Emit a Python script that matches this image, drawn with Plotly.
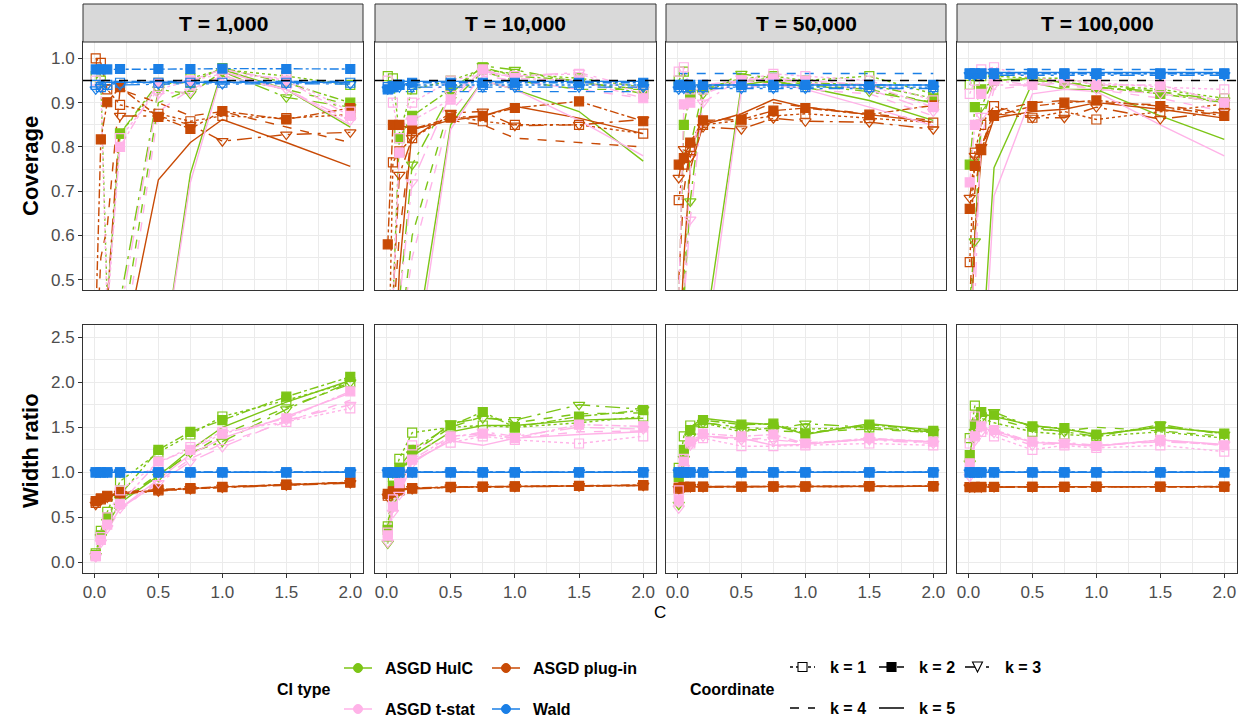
import plotly.graph_objects as go

# tuning constant C on the x axis
C_VALUES = [0.01, 0.05, 0.1, 0.2, 0.5, 0.75, 1.0, 1.5, 2.0]
T_LABELS = ["T = 1,000", "T = 10,000", "T = 50,000", "T = 100,000"]
CI_TYPES = ["ASGD HulC", "ASGD plug-in", "ASGD t-stat", "Wald"]
COORDS = ["k = 1", "k = 2", "k = 3", "k = 4", "k = 5"]
TARGET = 0.95

# ---- coverage, one list per coordinate k = 1..5 ----
cov_1000_hulc = [
    [0.96, 0.95, 0.45, 0.83, 0.937, 0.955, 0.975, 0.96, 0.94],
    [0.20, 0.30, 0.45, 0.83, 0.945, 0.945, 0.978, 0.945, 0.90],
    [0.10, 0.20, 0.35, 0.45, 0.93, 0.92, 0.97, 0.912, 0.89],
    [0.05, 0.10, 0.20, 0.35, 0.90, 0.93, 0.96, 0.93, 0.895],
    [0.02, 0.05, 0.08, 0.12, 0.25, 0.74, 0.975, 0.93, 0.845],
]
cov_1000_plugin = [
    [1.00, 0.99, 0.93, 0.895, 0.875, 0.858, 0.87, 0.865, 0.873],
    [0.40, 0.817, 0.901, 0.935, 0.868, 0.841, 0.881, 0.862, 0.888],
    [0.20, 0.35, 0.45, 0.87, 0.87, 0.85, 0.813, 0.828, 0.833],
    [0.30, 0.55, 0.62, 0.93, 0.90, 0.87, 0.88, 0.845, 0.81],
    [0.02, 0.05, 0.10, 0.30, 0.726, 0.81, 0.862, 0.81, 0.756],
]
cov_1000_tstat = [
    [0.95, 0.94, 0.42, 0.82, 0.93, 0.95, 0.965, 0.955, 0.88],
    [0.20, 0.35, 0.45, 0.80, 0.945, 0.95, 0.975, 0.95, 0.87],
    [0.10, 0.20, 0.30, 0.42, 0.92, 0.925, 0.96, 0.93, 0.86],
    [0.05, 0.10, 0.15, 0.30, 0.88, 0.93, 0.96, 0.93, 0.86],
    [0.02, 0.05, 0.08, 0.12, 0.25, 0.72, 0.97, 0.93, 0.85],
]
cov_1000_wald = [
    [0.94, 0.935, 0.94, 0.945, 0.945, 0.945, 0.945, 0.945, 0.945],
    [0.975, 0.975, 0.975, 0.976, 0.976, 0.976, 0.977, 0.976, 0.976],
    [0.93, 0.935, 0.94, 0.94, 0.942, 0.943, 0.942, 0.943, 0.942],
    [0.945, 0.948, 0.948, 0.948, 0.948, 0.948, 0.948, 0.948, 0.948],
    [0.94, 0.944, 0.946, 0.946, 0.946, 0.946, 0.946, 0.946, 0.946],
]

cov_10000_hulc = [
    [0.96, 0.955, 0.83, 0.93, 0.95, 0.975, 0.965, 0.955, 0.935],
    [0.40, 0.45, 0.82, 0.87, 0.93, 0.98, 0.96, 0.95, 0.92],
    [0.20, 0.40, 0.45, 0.76, 0.92, 0.983, 0.974, 0.945, 0.93],
    [0.10, 0.20, 0.35, 0.60, 0.90, 0.97, 0.95, 0.93, 0.93],
    [0.00, 0.05, 0.10, 0.30, 0.85, 0.95, 0.93, 0.88, 0.768],
]
cov_10000_plugin = [
    [0.20, 0.765, 0.79, 0.82, 0.87, 0.858, 0.85, 0.85, 0.83],
    [0.58, 0.85, 0.85, 0.84, 0.866, 0.87, 0.888, 0.903, 0.858],
    [0.30, 0.45, 0.737, 0.82, 0.877, 0.88, 0.848, 0.85, 0.862],
    [0.20, 0.40, 0.60, 0.84, 0.86, 0.85, 0.82, 0.81, 0.80],
    [0.05, 0.20, 0.52, 0.84, 0.86, 0.87, 0.892, 0.865, 0.83],
]
cov_10000_tstat = [
    [0.95, 0.90, 0.82, 0.90, 0.95, 0.965, 0.96, 0.965, 0.92],
    [0.30, 0.45, 0.787, 0.86, 0.907, 0.975, 0.955, 0.95, 0.91],
    [0.15, 0.35, 0.45, 0.72, 0.92, 0.97, 0.96, 0.968, 0.93],
    [0.10, 0.20, 0.35, 0.55, 0.88, 0.96, 0.95, 0.93, 0.91],
    [0.00, 0.05, 0.10, 0.25, 0.84, 0.95, 0.93, 0.86, 0.78],
]
cov_10000_wald = [
    [0.935, 0.938, 0.94, 0.94, 0.94, 0.94, 0.94, 0.94, 0.94],
    [0.93, 0.935, 0.94, 0.945, 0.945, 0.945, 0.945, 0.945, 0.945],
    [0.93, 0.932, 0.935, 0.935, 0.935, 0.935, 0.935, 0.935, 0.935],
    [0.925, 0.925, 0.925, 0.925, 0.925, 0.925, 0.925, 0.925, 0.925],
    [0.948, 0.948, 0.948, 0.948, 0.948, 0.948, 0.948, 0.948, 0.948],
]

cov_50000_hulc = [
    [0.95, 0.97, 0.92, 0.93, 0.955, 0.96, 0.95, 0.96, 0.92],
    [0.45, 0.85, 0.92, 0.935, 0.95, 0.955, 0.945, 0.94, 0.91],
    [0.40, 0.45, 0.677, 0.92, 0.965, 0.955, 0.94, 0.925, 0.90],
    [0.30, 0.50, 0.80, 0.93, 0.95, 0.945, 0.94, 0.93, 0.90],
    [0.00, 0.10, 0.20, 0.35, 0.94, 0.95, 0.935, 0.905, 0.86],
]
cov_50000_plugin = [
    [0.68, 0.76, 0.80, 0.85, 0.86, 0.87, 0.875, 0.865, 0.855],
    [0.76, 0.775, 0.81, 0.86, 0.862, 0.882, 0.888, 0.873, 0.894],
    [0.73, 0.795, 0.777, 0.845, 0.84, 0.865, 0.858, 0.856, 0.84],
    [0.50, 0.70, 0.80, 0.855, 0.87, 0.90, 0.89, 0.875, 0.86],
    [0.30, 0.55, 0.75, 0.85, 0.875, 0.907, 0.89, 0.873, 0.856],
]
cov_50000_tstat = [
    [0.97, 0.98, 0.93, 0.93, 0.95, 0.965, 0.96, 0.95, 0.905],
    [0.45, 0.896, 0.90, 0.94, 0.95, 0.955, 0.95, 0.94, 0.89],
    [0.35, 0.45, 0.636, 0.90, 0.955, 0.95, 0.945, 0.93, 0.88],
    [0.25, 0.45, 0.75, 0.92, 0.95, 0.94, 0.93, 0.92, 0.87],
    [0.00, 0.08, 0.15, 0.30, 0.93, 0.945, 0.93, 0.89, 0.848],
]
cov_50000_wald = [
    [0.935, 0.935, 0.935, 0.935, 0.935, 0.935, 0.935, 0.935, 0.935],
    [0.94, 0.94, 0.94, 0.94, 0.94, 0.94, 0.94, 0.94, 0.94],
    [0.93, 0.932, 0.932, 0.932, 0.932, 0.932, 0.932, 0.932, 0.932],
    [0.966, 0.966, 0.966, 0.966, 0.966, 0.966, 0.966, 0.966, 0.966],
    [0.94, 0.94, 0.94, 0.94, 0.94, 0.94, 0.94, 0.94, 0.94],
]

cov_100000_hulc = [
    [0.94, 0.96, 0.96, 0.96, 0.955, 0.955, 0.94, 0.93, 0.91],
    [0.76, 0.89, 0.93, 0.95, 0.955, 0.945, 0.935, 0.92, 0.90],
    [0.45, 0.587, 0.89, 0.955, 0.95, 0.945, 0.935, 0.925, 0.905],
    [0.40, 0.60, 0.85, 0.95, 0.955, 0.945, 0.94, 0.925, 0.90],
    [0.00, 0.10, 0.30, 0.753, 0.945, 0.93, 0.93, 0.87, 0.817],
]
cov_100000_plugin = [
    [0.54, 0.787, 0.85, 0.892, 0.866, 0.88, 0.862, 0.88, 0.897],
    [0.66, 0.757, 0.793, 0.87, 0.892, 0.90, 0.905, 0.892, 0.87],
    [0.685, 0.78, 0.80, 0.875, 0.866, 0.866, 0.89, 0.863, 0.88],
    [0.45, 0.70, 0.80, 0.88, 0.90, 0.905, 0.90, 0.895, 0.875],
    [0.30, 0.60, 0.78, 0.865, 0.88, 0.885, 0.90, 0.885, 0.865],
]
cov_100000_tstat = [
    [0.92, 0.95, 0.975, 0.98, 0.955, 0.95, 0.945, 0.935, 0.93],
    [0.72, 0.85, 0.92, 0.95, 0.94, 0.955, 0.94, 0.94, 0.90],
    [0.45, 0.45, 0.87, 0.94, 0.94, 0.945, 0.93, 0.92, 0.90],
    [0.35, 0.55, 0.82, 0.93, 0.94, 0.94, 0.93, 0.91, 0.88],
    [0.00, 0.05, 0.20, 0.69, 0.92, 0.93, 0.925, 0.85, 0.78],
]
cov_100000_wald = [
    [0.965, 0.965, 0.965, 0.965, 0.965, 0.965, 0.965, 0.965, 0.965],
    [0.966, 0.966, 0.966, 0.966, 0.966, 0.966, 0.966, 0.966, 0.966],
    [0.962, 0.962, 0.962, 0.962, 0.962, 0.962, 0.962, 0.962, 0.962],
    [0.975, 0.975, 0.975, 0.975, 0.975, 0.975, 0.975, 0.975, 0.975],
    [0.968, 0.968, 0.968, 0.968, 0.968, 0.968, 0.968, 0.968, 0.968],
]

# ---- width ratio ----
wid_1000_hulc = [
    [0.10, 0.35, 0.56, 0.90, 1.22, 1.42, 1.62, 1.80, 2.00],
    [0.08, 0.30, 0.50, 0.75, 1.25, 1.45, 1.58, 1.84, 2.06],
    [0.07, 0.28, 0.45, 0.70, 0.95, 1.22, 1.34, 1.70, 2.00],
    [0.06, 0.26, 0.44, 0.68, 0.98, 1.20, 1.42, 1.72, 1.98],
    [0.06, 0.25, 0.42, 0.66, 0.96, 1.25, 1.50, 1.78, 2.02],
]
wid_1000_plugin = [
    [0.66, 0.70, 0.73, 0.77, 0.80, 0.82, 0.835, 0.86, 0.885],
    [0.68, 0.71, 0.74, 0.78, 0.81, 0.825, 0.84, 0.865, 0.89],
    [0.64, 0.69, 0.72, 0.76, 0.79, 0.815, 0.83, 0.855, 0.88],
    [0.65, 0.70, 0.725, 0.765, 0.795, 0.82, 0.835, 0.86, 0.885],
    [0.67, 0.705, 0.735, 0.775, 0.80, 0.822, 0.838, 0.862, 0.887],
]
wid_1000_tstat = [
    [0.07, 0.28, 0.50, 0.80, 1.10, 1.28, 1.45, 1.56, 1.71],
    [0.07, 0.25, 0.42, 0.65, 1.12, 1.25, 1.43, 1.60, 1.90],
    [0.06, 0.22, 0.38, 0.60, 0.88, 1.12, 1.28, 1.58, 1.75],
    [0.05, 0.20, 0.36, 0.58, 0.90, 1.15, 1.32, 1.56, 1.80],
    [0.05, 0.20, 0.37, 0.60, 0.92, 1.20, 1.38, 1.62, 1.88],
]
wid_1000_wald = [
    [1.0, 1.0, 1.0, 1.0, 1.0, 1.0, 1.0, 1.0, 1.0],
    [1.0, 1.0, 1.0, 1.0, 1.0, 1.0, 1.0, 1.0, 1.0],
    [1.0, 1.0, 1.0, 1.0, 1.0, 1.0, 1.0, 1.0, 1.0],
    [1.0, 1.0, 1.0, 1.0, 1.0, 1.0, 1.0, 1.0, 1.0],
    [1.0, 1.0, 1.0, 1.0, 1.0, 1.0, 1.0, 1.0, 1.0],
]

wid_10000_hulc = [
    [0.40, 0.95, 1.15, 1.44, 1.50, 1.52, 1.50, 1.55, 1.62],
    [0.36, 0.85, 1.05, 1.25, 1.52, 1.67, 1.50, 1.62, 1.69],
    [0.21, 0.70, 0.95, 1.20, 1.545, 1.60, 1.58, 1.75, 1.70],
    [0.25, 0.75, 1.00, 1.22, 1.50, 1.62, 1.55, 1.65, 1.66],
    [0.28, 0.78, 1.00, 1.18, 1.45, 1.52, 1.52, 1.58, 1.60],
]
wid_10000_plugin = [
    [0.74, 0.78, 0.80, 0.82, 0.835, 0.84, 0.842, 0.848, 0.855],
    [0.76, 0.79, 0.81, 0.825, 0.838, 0.842, 0.845, 0.85, 0.858],
    [0.73, 0.77, 0.795, 0.815, 0.832, 0.838, 0.84, 0.846, 0.852],
    [0.75, 0.78, 0.80, 0.82, 0.835, 0.84, 0.843, 0.848, 0.855],
    [0.75, 0.785, 0.805, 0.822, 0.836, 0.841, 0.844, 0.849, 0.856],
]
wid_10000_tstat = [
    [0.33, 0.70, 0.95, 1.30, 1.33, 1.40, 1.36, 1.32, 1.40],
    [0.30, 0.62, 0.88, 1.14, 1.40, 1.43, 1.38, 1.53, 1.51],
    [0.22, 0.55, 0.75, 1.10, 1.38, 1.45, 1.40, 1.50, 1.48],
    [0.26, 0.58, 0.80, 1.12, 1.36, 1.42, 1.38, 1.45, 1.46],
    [0.28, 0.60, 0.85, 1.12, 1.35, 1.30, 1.38, 1.42, 1.45],
]
wid_10000_wald = [
    [1.0, 1.0, 1.0, 1.0, 1.0, 1.0, 1.0, 1.0, 1.0],
    [1.0, 1.0, 1.0, 1.0, 1.0, 1.0, 1.0, 1.0, 1.0],
    [1.0, 1.0, 1.0, 1.0, 1.0, 1.0, 1.0, 1.0, 1.0],
    [1.0, 1.0, 1.0, 1.0, 1.0, 1.0, 1.0, 1.0, 1.0],
    [1.0, 1.0, 1.0, 1.0, 1.0, 1.0, 1.0, 1.0, 1.0],
]

wid_50000_hulc = [
    [1.05, 1.40, 1.52, 1.55, 1.45, 1.50, 1.48, 1.50, 1.44],
    [0.95, 1.25, 1.47, 1.58, 1.53, 1.54, 1.43, 1.53, 1.46],
    [0.64, 1.15, 1.40, 1.55, 1.50, 1.48, 1.54, 1.50, 1.45],
    [0.75, 1.20, 1.45, 1.56, 1.48, 1.46, 1.45, 1.48, 1.44],
    [0.85, 1.25, 1.50, 1.60, 1.55, 1.53, 1.42, 1.54, 1.47],
]
wid_50000_plugin = [
    [0.82, 0.835, 0.838, 0.84, 0.84, 0.842, 0.842, 0.845, 0.845],
    [0.83, 0.838, 0.84, 0.842, 0.842, 0.844, 0.844, 0.846, 0.847],
    [0.815, 0.832, 0.836, 0.838, 0.84, 0.84, 0.841, 0.843, 0.844],
    [0.82, 0.835, 0.838, 0.84, 0.841, 0.842, 0.842, 0.844, 0.845],
    [0.825, 0.836, 0.839, 0.841, 0.842, 0.843, 0.843, 0.845, 0.846],
]
wid_50000_tstat = [
    [0.80, 1.15, 1.32, 1.38, 1.29, 1.29, 1.30, 1.32, 1.30],
    [0.69, 1.12, 1.34, 1.43, 1.40, 1.42, 1.32, 1.38, 1.34],
    [0.60, 1.05, 1.30, 1.40, 1.36, 1.36, 1.33, 1.36, 1.32],
    [0.65, 1.08, 1.32, 1.41, 1.37, 1.38, 1.32, 1.37, 1.33],
    [0.70, 1.10, 1.33, 1.40, 1.38, 1.30, 1.31, 1.37, 1.34],
]
wid_50000_wald = [
    [1.0, 1.0, 1.0, 1.0, 1.0, 1.0, 1.0, 1.0, 1.0],
    [1.0, 1.0, 1.0, 1.0, 1.0, 1.0, 1.0, 1.0, 1.0],
    [1.0, 1.0, 1.0, 1.0, 1.0, 1.0, 1.0, 1.0, 1.0],
    [1.0, 1.0, 1.0, 1.0, 1.0, 1.0, 1.0, 1.0, 1.0],
    [1.0, 1.0, 1.0, 1.0, 1.0, 1.0, 1.0, 1.0, 1.0],
]

wid_100000_hulc = [
    [1.38, 1.74, 1.60, 1.55, 1.45, 1.42, 1.40, 1.45, 1.38],
    [1.19, 1.53, 1.67, 1.64, 1.51, 1.49, 1.42, 1.51, 1.43],
    [1.10, 1.45, 1.60, 1.67, 1.50, 1.45, 1.40, 1.53, 1.42],
    [1.15, 1.50, 1.62, 1.60, 1.48, 1.46, 1.50, 1.46, 1.40],
    [1.20, 1.50, 1.65, 1.62, 1.52, 1.48, 1.42, 1.50, 1.44],
]
wid_100000_plugin = [
    [0.835, 0.836, 0.836, 0.837, 0.838, 0.838, 0.839, 0.84, 0.84],
    [0.837, 0.838, 0.838, 0.839, 0.84, 0.84, 0.841, 0.842, 0.842],
    [0.833, 0.834, 0.835, 0.836, 0.837, 0.837, 0.838, 0.839, 0.839],
    [0.835, 0.836, 0.837, 0.837, 0.838, 0.839, 0.839, 0.84, 0.841],
    [0.836, 0.837, 0.837, 0.838, 0.839, 0.839, 0.84, 0.841, 0.841],
]
wid_100000_tstat = [
    [1.32, 1.62, 1.45, 1.40, 1.25, 1.30, 1.27, 1.30, 1.23],
    [1.10, 1.40, 1.51, 1.47, 1.34, 1.32, 1.29, 1.36, 1.30],
    [0.95, 1.35, 1.45, 1.44, 1.30, 1.33, 1.30, 1.34, 1.31],
    [0.84, 1.35, 1.48, 1.45, 1.32, 1.31, 1.30, 1.35, 1.30],
    [1.00, 1.38, 1.50, 1.46, 1.33, 1.32, 1.29, 1.36, 1.31],
]
wid_100000_wald = [
    [1.0, 1.0, 1.0, 1.0, 1.0, 1.0, 1.0, 1.0, 1.0],
    [1.0, 1.0, 1.0, 1.0, 1.0, 1.0, 1.0, 1.0, 1.0],
    [1.0, 1.0, 1.0, 1.0, 1.0, 1.0, 1.0, 1.0, 1.0],
    [1.0, 1.0, 1.0, 1.0, 1.0, 1.0, 1.0, 1.0, 1.0],
    [1.0, 1.0, 1.0, 1.0, 1.0, 1.0, 1.0, 1.0, 1.0],
]

PANELS = [
    [
        [cov_1000_hulc, cov_1000_plugin, cov_1000_tstat, cov_1000_wald],
        [cov_10000_hulc, cov_10000_plugin, cov_10000_tstat, cov_10000_wald],
        [cov_50000_hulc, cov_50000_plugin, cov_50000_tstat, cov_50000_wald],
        [cov_100000_hulc, cov_100000_plugin, cov_100000_tstat, cov_100000_wald],
    ],
    [
        [wid_1000_hulc, wid_1000_plugin, wid_1000_tstat, wid_1000_wald],
        [wid_10000_hulc, wid_10000_plugin, wid_10000_tstat, wid_10000_wald],
        [wid_50000_hulc, wid_50000_plugin, wid_50000_tstat, wid_50000_wald],
        [wid_100000_hulc, wid_100000_plugin, wid_100000_tstat, wid_100000_wald],
    ],
]

COLORS = ["#7CC516", "#C84A05", "#FFB3E8", "#1A7FE6"]
DASHES = ["dot", "dashdot", "longdashdot", "dash", "solid"]
SYMBOLS = ["square-open", "square", "triangle-down-open"]

# ---- page geometry (pixels) ----
W, H = 1240, 717
ML, MR, MT, MB = 83, 3, 4, 144
PW, PH = W - ML - MR, H - MT - MB
COL_PX = [(83, 363), (375, 656), (666, 946), (957, 1237)]
ROW_PX = [(42, 290), (325, 573)]
STRIP_TOP = 4


def fx(px):
    return (px - ML) / PW


def fy(py):
    return (H - MB - py) / PH


FONT = "Arial, Liberation Sans, sans-serif"
GRID = "#EBEBEB"
FRAME = "#333333"

fig = go.Figure()

for r in range(2):
    for c in range(4):
        n = r * 4 + c + 1
        xa = "x" if n == 1 else f"x{n}"
        ya = "y" if n == 1 else f"y{n}"
        groups = PANELS[r][c]
        for i, series in enumerate(groups):
            for k in range(5):
                fig.add_trace(go.Scatter(
                    x=C_VALUES, y=series[k], mode="lines",
                    line=dict(color=COLORS[i], width=1.4, dash=DASHES[k]),
                    xaxis=xa, yaxis=ya, showlegend=False, hoverinfo="skip"))
        for i, series in enumerate(groups):
            for k in range(3):
                fig.add_trace(go.Scatter(
                    x=C_VALUES, y=series[k], mode="markers",
                    marker=dict(color=COLORS[i], symbol=SYMBOLS[k],
                                size=10 if k == 2 else 9,
                                line=dict(color=COLORS[i], width=1.2)),
                    xaxis=xa, yaxis=ya, showlegend=False, hoverinfo="skip"))

layout = dict(
    width=W, height=H,
    margin=dict(l=ML, r=MR, t=MT, b=MB),
    paper_bgcolor="white", plot_bgcolor="white",
    font=dict(family=FONT, color="#1A1A1A"),
    showlegend=False,
)

x_ticks = [0, 0.5, 1.0, 1.5, 2.0]
for r in range(2):
    y0, y1 = ROW_PX[r]
    if r == 0:
        yrange, yt, ym = [0.477, 1.037], [0.5, 0.6, 0.7, 0.8, 0.9, 1.0], [0.55, 0.65, 0.75, 0.85, 0.95]
    else:
        yrange, yt, ym = [-0.118, 2.636], [0, 0.5, 1.0, 1.5, 2.0, 2.5], [0.25, 0.75, 1.25, 1.75, 2.25]
    for c in range(4):
        n = r * 4 + c + 1
        key = "" if n == 1 else str(n)
        a, b = COL_PX[c]
        layout["xaxis" + key] = dict(
            domain=[fx(a), fx(b)], anchor="y" + key, range=[-0.0895, 2.0995],
            showline=True, mirror=True, linecolor=FRAME, linewidth=1,
            showgrid=True, gridcolor=GRID, gridwidth=1.1, zeroline=False,
            tickvals=x_ticks, ticktext=[f"{v:.1f}" for v in x_ticks],
            showticklabels=(r == 1), ticks="outside" if r == 1 else "",
            ticklen=4, tickcolor=FRAME,
            tickfont=dict(size=17, color="#4D4D4D", family=FONT),
            minor=dict(tickvals=[0.25, 0.75, 1.25, 1.75], showgrid=True,
                       gridcolor=GRID, gridwidth=0.55, ticks=""),
        )
        layout["yaxis" + key] = dict(
            domain=[fy(y1), fy(y0)], anchor="x" + key, range=yrange,
            showline=True, mirror=True, linecolor=FRAME, linewidth=1,
            showgrid=True, gridcolor=GRID, gridwidth=1.1, zeroline=False,
            tickvals=yt, ticktext=[f"{v:.1f}" for v in yt],
            showticklabels=(c == 0), ticks="outside" if c == 0 else "",
            ticklen=4, tickcolor=FRAME,
            tickfont=dict(size=17, color="#4D4D4D", family=FONT),
            minor=dict(tickvals=ym, showgrid=True, gridcolor=GRID,
                       gridwidth=0.55, ticks=""),
        )

fig.update_layout(**layout)

shapes = []
annotations = []


def text_at(s, px, py, anchor="left", size=16, bold=True, angle=0):
    annotations.append(dict(text=f"<b>{s}</b>" if bold else s, xref="paper", yref="paper",
                            x=fx(px), y=fy(py), xanchor=anchor, yanchor="middle",
                            textangle=angle, showarrow=False,
                            font=dict(size=size, color="black")))


# target coverage line + strips
for c in range(4):
    n = c + 1
    key = "" if n == 1 else str(n)
    shapes.append(dict(type="line", xref=f"x{key} domain", x0=0, x1=1,
                       yref="y" + key, y0=TARGET, y1=TARGET,
                       line=dict(color="black", width=1.5, dash="dash")))
    a, b = COL_PX[c]
    shapes.append(dict(type="rect", xref="paper", yref="paper",
                       x0=fx(a), x1=fx(b), y0=fy(ROW_PX[0][0]), y1=fy(STRIP_TOP),
                       fillcolor="#D9D9D9", line=dict(color=FRAME, width=1)))
    text_at(T_LABELS[c], (a + b) / 2, (ROW_PX[0][0] + STRIP_TOP) / 2 + 1,
            anchor="center", size=21)

# axis titles
text_at("Coverage", 30, 166, anchor="center", size=22, angle=-90)
text_at("Width ratio", 30, 451, anchor="center", size=22, angle=-90)
text_at("C", 660, 612, anchor="center", size=17, bold=False)


# ---- legends ----
def key_line(x0, x1, py, color, dash="solid"):
    shapes.append(dict(type="line", xref="paper", yref="paper",
                       x0=fx(x0), x1=fx(x1), y0=fy(py), y1=fy(py),
                       line=dict(color=color, width=1.5, dash=dash)))


def key_circle(cx, cy, rad, color):
    shapes.append(dict(type="circle", xref="paper", yref="paper",
                       x0=fx(cx - rad), x1=fx(cx + rad), y0=fy(cy + rad), y1=fy(cy - rad),
                       fillcolor=color, line=dict(color=color, width=1)))


def key_square(cx, cy, half, filled):
    shapes.append(dict(type="rect", xref="paper", yref="paper",
                       x0=fx(cx - half), x1=fx(cx + half), y0=fy(cy + half), y1=fy(cy - half),
                       fillcolor="black" if filled else "white",
                       line=dict(color="black", width=1.1)))


def key_triangle(cx, cy, half):
    path = (f"M {fx(cx - half)} {fy(cy - half)} L {fx(cx + half)} {fy(cy - half)} "
            f"L {fx(cx)} {fy(cy + half)} Z")
    shapes.append(dict(type="path", xref="paper", yref="paper", path=path,
                       fillcolor="white", line=dict(color="black", width=1.1)))


text_at("CI type", 303, 689, anchor="center")
ci_pos = [(344, 668), (492, 668), (344, 709), (492, 709)]
for i, name in enumerate(CI_TYPES):
    kx, ky = ci_pos[i]
    key_line(kx, kx + 28, ky, COLORS[i])
    key_circle(kx + 14, ky, 4.5, COLORS[i])
    text_at(name, kx + 39, ky)

text_at("Coordinate", 732, 689, anchor="center")
k_pos = [(790, 667), (879, 667), (965, 667), (790, 708), (879, 708)]
for k, name in enumerate(COORDS):
    kx, ky = k_pos[k]
    key_line(kx, kx + 25, ky, "black", DASHES[k])
    if k == 0:
        key_square(kx + 12.5, ky, 4.5, False)
    elif k == 1:
        key_square(kx + 12.5, ky, 4.5, True)
    elif k == 2:
        key_triangle(kx + 12.5, ky, 5)
    text_at(name, kx + 38, ky)

fig.update_layout(shapes=shapes, annotations=annotations)
fig.write_html("out.html", config={"displayModeBar": False},
               post_script="document.body.style.margin='0';document.body.style.overflow='hidden';")
